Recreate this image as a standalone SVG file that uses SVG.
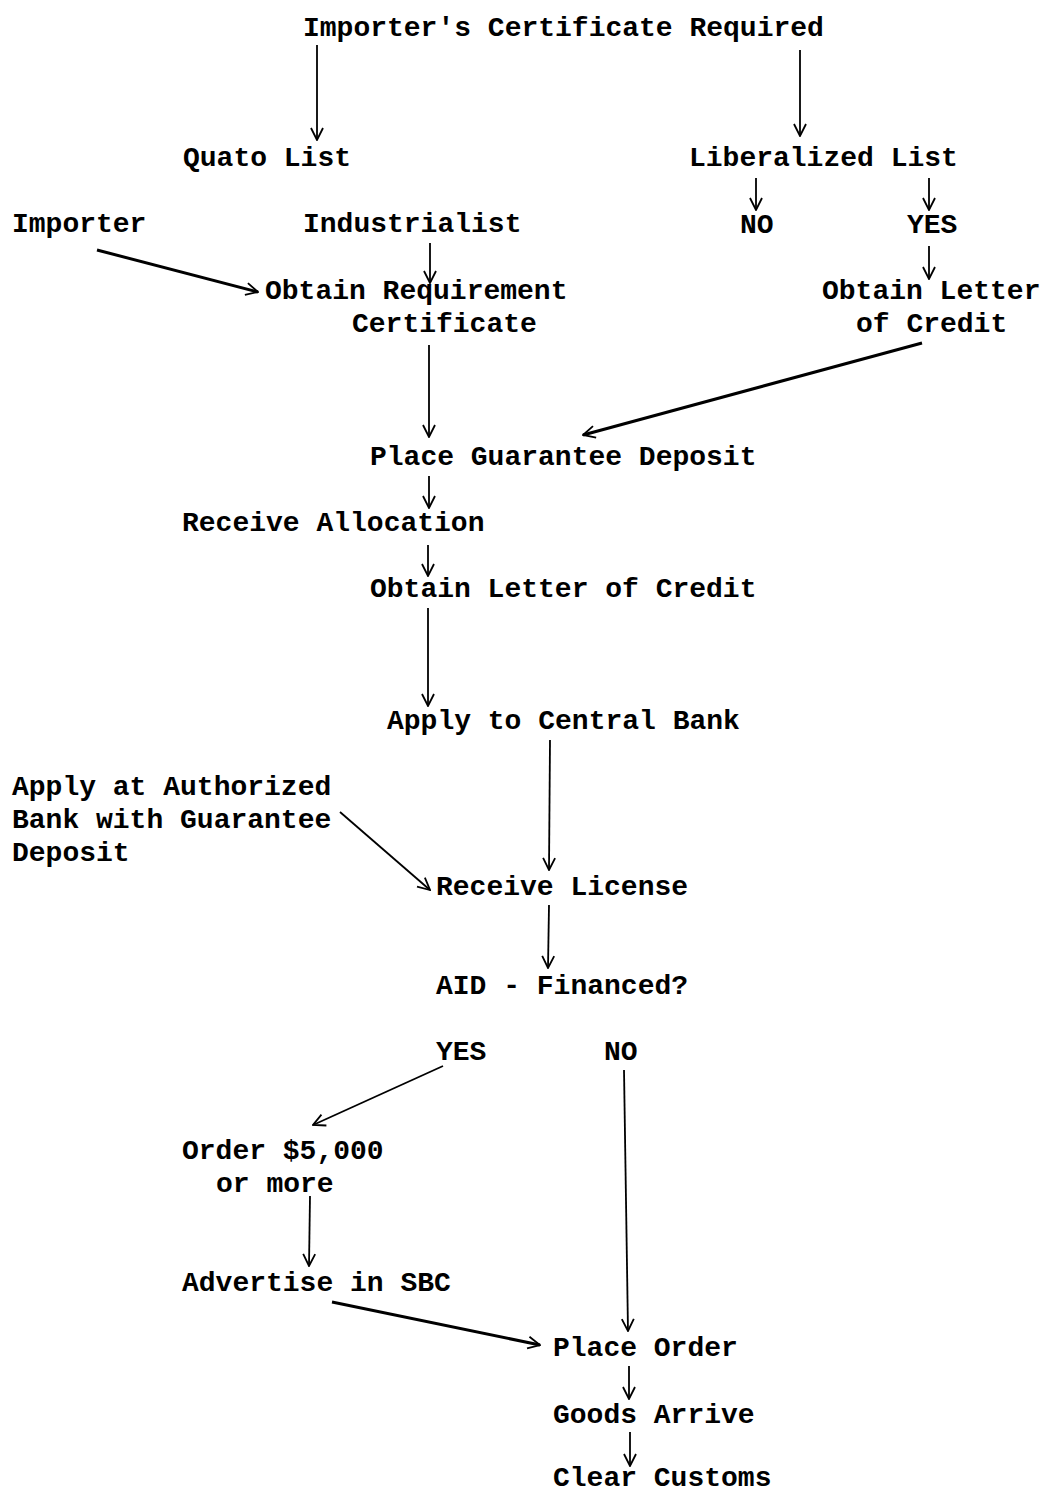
<svg xmlns="http://www.w3.org/2000/svg" width="1046" height="1494" viewBox="0 0 1046 1494">
<style>
text{font-family:"Liberation Mono","DejaVu Sans Mono",monospace;font-weight:bold;font-size:28px;fill:#000}
.c{fill:none;stroke:#000;stroke-width:1.8}
.t{stroke-width:3}
</style>
<defs>
<marker id="a" viewBox="0 0 14 14" refX="13" refY="7" markerWidth="14" markerHeight="14" orient="auto" markerUnits="userSpaceOnUse">
<path d="M1,1 L13,7 L1,13" fill="none" stroke="#000" stroke-width="1.8"/>
</marker>
</defs>
<rect width="1046" height="1494" fill="#fff"/>
<g id="connectors">
<line class="c" x1="317" y1="45" x2="317" y2="140" marker-end="url(#a)"/>
<line class="c" x1="800" y1="50" x2="800" y2="136" marker-end="url(#a)"/>
<line class="c" x1="756" y1="178" x2="756" y2="210" marker-end="url(#a)"/>
<line class="c" x1="929" y1="178" x2="929" y2="210" marker-end="url(#a)"/>
<line class="c t" x1="97" y1="250" x2="258" y2="292" marker-end="url(#a)"/>
<line class="c" x1="430" y1="243" x2="430" y2="283" marker-end="url(#a)"/>
<line class="c" x1="929" y1="246" x2="929" y2="279" marker-end="url(#a)"/>
<line class="c" x1="429" y1="345" x2="429" y2="437" marker-end="url(#a)"/>
<line class="c t" x1="922" y1="343" x2="583" y2="435" marker-end="url(#a)"/>
<line class="c" x1="429" y1="476" x2="429" y2="508" marker-end="url(#a)"/>
<line class="c" x1="428" y1="545" x2="428" y2="576" marker-end="url(#a)"/>
<line class="c" x1="428" y1="608" x2="428" y2="706" marker-end="url(#a)"/>
<line class="c" x1="550" y1="740" x2="549" y2="870" marker-end="url(#a)"/>
<line class="c" x1="340" y1="812" x2="430" y2="890" marker-end="url(#a)"/>
<line class="c" x1="549" y1="905" x2="548" y2="968" marker-end="url(#a)"/>
<line class="c" x1="443" y1="1066" x2="313" y2="1125" marker-end="url(#a)"/>
<line class="c" x1="624" y1="1070" x2="628" y2="1331" marker-end="url(#a)"/>
<line class="c" x1="310" y1="1196" x2="309" y2="1266" marker-end="url(#a)"/>
<line class="c t" x1="332" y1="1302" x2="540" y2="1345" marker-end="url(#a)"/>
<line class="c" x1="629" y1="1366" x2="629" y2="1399" marker-end="url(#a)"/>
<line class="c" x1="630" y1="1432" x2="630" y2="1466" marker-end="url(#a)"/>
</g>
<g id="n-importers-cert"><text x="303" y="36">Importer's Certificate Required</text></g>
<g id="n-quota"><text x="183" y="166">Quato List</text></g>
<g id="n-liberalized"><text x="689" y="166">Liberalized List</text></g>
<g id="n-importer"><text x="12" y="232">Importer</text></g>
<g id="n-industrialist"><text x="303" y="232">Industrialist</text></g>
<g id="n-no1"><text x="740" y="233">NO</text></g>
<g id="n-yes1"><text x="907" y="233">YES</text></g>
<g id="n-obtain-req"><text x="265" y="299">Obtain Requirement</text><text x="352" y="332">Certificate</text></g>
<g id="n-obtain-loc1"><text x="822" y="299">Obtain Letter</text><text x="856" y="332">of Credit</text></g>
<g id="n-place-deposit"><text x="370" y="465">Place Guarantee Deposit</text></g>
<g id="n-receive-alloc"><text x="182" y="531">Receive Allocation</text></g>
<g id="n-obtain-loc2"><text x="370" y="597">Obtain Letter of Credit</text></g>
<g id="n-apply-central"><text x="387" y="729">Apply to Central Bank</text></g>
<g id="n-apply-auth"><text x="12" y="795">Apply at Authorized</text><text x="12" y="828">Bank with Guarantee</text><text x="12" y="861">Deposit</text></g>
<g id="n-receive-license"><text x="436" y="895">Receive License</text></g>
<g id="n-aid"><text x="436" y="994">AID - Financed?</text></g>
<g id="n-yes2"><text x="436" y="1060">YES</text></g>
<g id="n-no2"><text x="604" y="1060">NO</text></g>
<g id="n-order"><text x="182" y="1159">Order $5,000</text><text x="216" y="1192">or more</text></g>
<g id="n-advertise"><text x="182" y="1291">Advertise in SBC</text></g>
<g id="n-place-order"><text x="553" y="1356">Place Order</text></g>
<g id="n-goods"><text x="553" y="1423">Goods Arrive</text></g>
<g id="n-customs"><text x="553" y="1486">Clear Customs</text></g>
</svg>
